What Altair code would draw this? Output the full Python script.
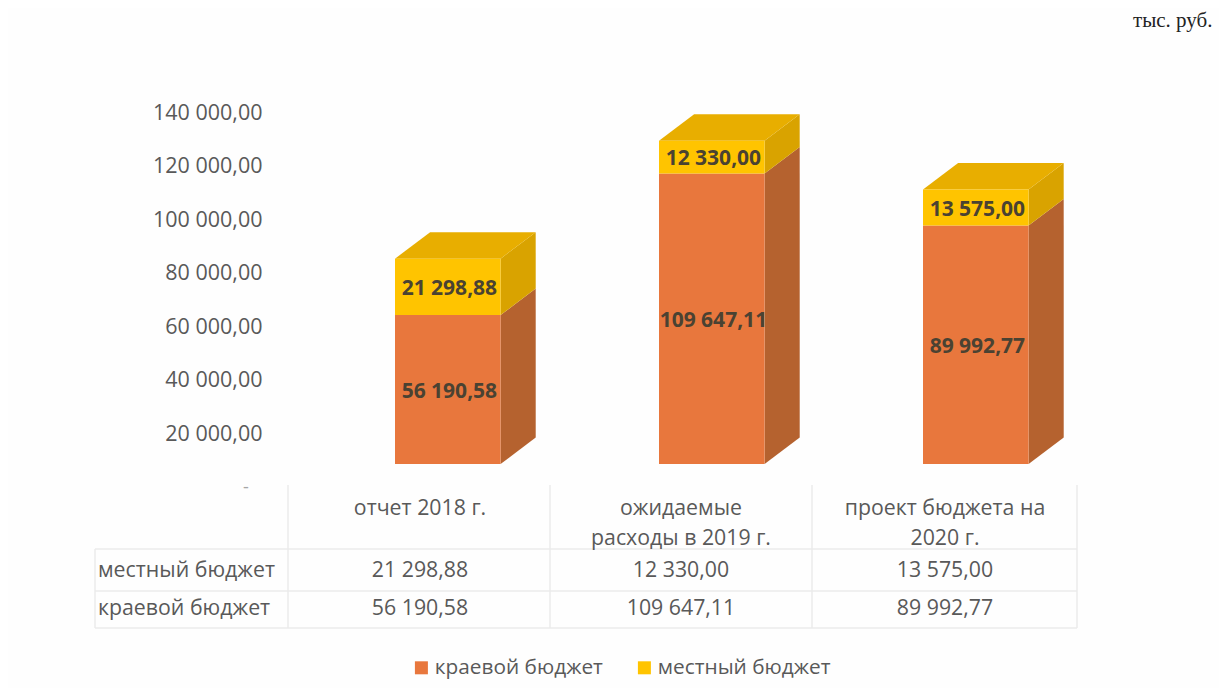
import altair as alt
import pandas as pd

categories_line1 = ["отчет 2018 г.", "ожидаемые", "проект бюджета на"]
categories_line2 = ["", "расходы в 2019 г.", "2020 г."]
regional = [56190.58, 109647.11, 89992.77]
local = [21298.88, 12330.00, 13575.00]
names = ["краевой бюджет", "местный бюджет"]
unit_text = "тыс. руб."
tick_values = [20000, 40000, 60000, 80000, 100000, 120000, 140000]

BAR_W = 0.4
DEPTH_X = 0.133
DEPTH_V = 10000
X0, Y0 = 270, 8
FONT = "Open Sans"
GREY = "#595959"
LINE = "#ebebeb"


def fmt(v):
    return f"{v:,.2f}".replace(",", "\u00a0").replace(".", ",")


x_bar = alt.Scale(domain=[0, 2], range=[395 - X0, 923 - X0], zero=False, nice=False)
y_bar = alt.Scale(domain=[0, 140000], range=[464 - Y0, 93 - Y0], zero=False, nice=False)
y_tick = alt.Scale(domain=[0, 140000], range=[488 - Y0, 113 - Y0], zero=False, nice=False)
x_dash = alt.Scale(domain=[0, 1], range=[246 - X0, 247 - X0], zero=False, nice=False)
x_col = alt.Scale(domain=[0, 1, 2], range=[420 - X0, 681 - X0, 945 - X0], zero=False, nice=False)
y_row = alt.Scale(domain=[0, 1, 2, 3], range=[509 - Y0, 539 - Y0, 571 - Y0, 609 - Y0], zero=False, nice=False)
x_edge = alt.Scale(domain=[0, 1, 2, 3, 4], range=[95 - X0, 288 - X0, 550 - X0, 812 - X0, 1077 - X0], zero=False, nice=False)
y_edge = alt.Scale(domain=[0, 1, 2, 3], range=[485 - Y0, 549 - Y0, 591 - Y0, 628 - Y0], zero=False, nice=False)
x_page = alt.Scale(domain=[0, 1], range=[1133 - X0, 1134 - X0], zero=False, nice=False)
y_page = alt.Scale(domain=[0, 1], range=[27 - Y0, 28 - Y0], zero=False, nice=False)

fronts, sides, tops, labels = [], [], [], []
for i in range(3):
    l, r = i, i + BAR_W
    segs = [(names[0], 0, regional[i]), (names[1], regional[i], regional[i] + local[i])]
    for name, a, b in segs:
        fronts.append(dict(left=l, right=r, start=a, end=b, name=name))
        labels.append(dict(x=(l + r) / 2 + 0.006, y=(a + b) / 2, text=fmt(b - a)))
        sides.append(dict(x=r, y=a, y2=b, bar=i, name=name))
        sides.append(dict(x=r + DEPTH_X, y=a + DEPTH_V, y2=b + DEPTH_V, bar=i, name=name))
    t = regional[i] + local[i]
    tops += [
        dict(x=l, y=t, y2=t, bar=i),
        dict(x=l + DEPTH_X, y=t, y2=t + DEPTH_V, bar=i),
        dict(x=r, y=t, y2=t + DEPTH_V, bar=i),
        dict(x=r + DEPTH_X, y=t + DEPTH_V, y2=t + DEPTH_V, bar=i),
    ]
fronts, sides, tops, labels = map(pd.DataFrame, (fronts, sides, tops, labels))

# axis
axis_layer = alt.Chart(pd.DataFrame({"v": tick_values})).mark_rule(opacity=0).encode(
    y=alt.Y("v:Q", scale=y_tick, title=None, axis=alt.Axis(
        values=tick_values, domain=False, ticks=False, grid=False, labelPadding=8,
        labelFont=FONT, labelFontSize=21.5, labelColor=GREY,
        labelExpr="replace(replace(format(datum.value,',.2f'),/,/g,'\u00a0'),'.',',')",
    ))
)
zero_label = alt.Chart(pd.DataFrame({"x": [0], "v": [0], "t": ["-"]})).mark_text(
    font=FONT, fontSize=18, color="#a6a6a6"
).encode(
    x=alt.X("x:Q", scale=x_dash, axis=None),
    y=alt.Y("v:Q", scale=y_tick, axis=None),
    text="t:N",
)


def area(df, color):
    return alt.Chart(df).mark_area(color=color, opacity=1).encode(
        x=alt.X("x:Q", scale=x_bar, axis=None),
        y=alt.Y("y:Q", scale=y_bar, axis=None),
        y2="y2:Q",
        detail="bar:N",
    )


side_o = area(sides[sides.name == names[0]], "#B5622F")
side_y = area(sides[sides.name == names[1]], "#D9A300")
top = area(tops, "#E8AE00")

front = alt.Chart(fronts).mark_bar(strokeWidth=1).encode(
    x=alt.X("left:Q", scale=x_bar, axis=None),
    x2="right:Q",
    y=alt.Y("start:Q", scale=y_bar, axis=None),
    y2="end:Q",
    color=alt.Color("name:N", title=None,
                    scale=alt.Scale(domain=names, range=["#E8773D", "#FFC400"]),
                    legend=alt.Legend(
                        orient="none", legendX=411 - X0, legendY=657 - Y0, direction="horizontal",
                        symbolType="square", symbolSize=169, symbolStrokeWidth=0,
                        labelFont=FONT, labelFontSize=20.8, labelColor=GREY,
                        columnPadding=31, labelOffset=3, labelLimit=300)),
)

bar_text = alt.Chart(labels).mark_text(font=FONT, fontSize=21, fontWeight="bold", color="#4a4232", dy=2).encode(
    x=alt.X("x:Q", scale=x_bar, axis=None),
    y=alt.Y("y:Q", scale=y_bar, axis=None),
    text="text:N",
)

# data table
cells = []
for i in range(3):
    cells.append(dict(col=i, row=0, text=categories_line1[i]))
    cells.append(dict(col=i, row=1, text=categories_line2[i]))
    cells.append(dict(col=i, row=2, text=fmt(local[i])))
    cells.append(dict(col=i, row=3, text=fmt(regional[i])))
cells = pd.DataFrame(cells)
cell_text = alt.Chart(cells).mark_text(font=FONT, fontSize=21.3, color=GREY).encode(
    x=alt.X("col:Q", scale=x_col, axis=None),
    y=alt.Y("row:Q", scale=y_row, axis=None),
    text="text:N",
)

row_names = pd.DataFrame({"edge": [0, 0], "row": [2, 3], "text": [names[1], names[0]]})
row_text = alt.Chart(row_names).mark_text(font=FONT, fontSize=21.3, color=GREY, align="left", dx=3).encode(
    x=alt.X("edge:Q", scale=x_edge, axis=None),
    y=alt.Y("row:Q", scale=y_row, axis=None),
    text="text:N",
)

vlines = pd.DataFrame({"edge": [0, 1, 2, 3, 4], "a": [1, 0, 0, 0, 0], "b": [3, 3, 3, 3, 3]})
vrule = alt.Chart(vlines).mark_rule(color=LINE, strokeWidth=1.5).encode(
    x=alt.X("edge:Q", scale=x_edge, axis=None),
    y=alt.Y("a:Q", scale=y_edge, axis=None),
    y2="b:Q",
)
hlines = pd.DataFrame({"row": [1, 2, 3], "a": [0, 0, 0], "b": [4, 4, 4]})
hrule = alt.Chart(hlines).mark_rule(color=LINE, strokeWidth=1.5).encode(
    x=alt.X("a:Q", scale=x_edge, axis=None),
    x2="b:Q",
    y=alt.Y("row:Q", scale=y_edge, axis=None),
)

unit = alt.Chart(pd.DataFrame({"x": [0], "y": [0], "t": [unit_text]})).mark_text(
    font="Liberation Serif", fontSize=21, color="#222222", align="left", baseline="alphabetic"
).encode(
    x=alt.X("x:Q", scale=x_page, axis=None),
    y=alt.Y("y:Q", scale=y_page, axis=None),
    text="t:N",
)

chart = alt.layer(
    axis_layer, zero_label, vrule, hrule, side_o, side_y, top, front, bar_text,
    cell_text, row_text, unit,
).resolve_scale(x="independent", y="independent", color="independent").properties(
    width=949, height=680,
    autosize=alt.AutoSizeParams(type="none"),
    padding={"left": 262, "right": 0, "top": 0, "bottom": 0},
    background="#fefefe",
).configure_view(stroke=None)

chart.save("out.html", embed_options={"renderer": "svg", "actions": False})
